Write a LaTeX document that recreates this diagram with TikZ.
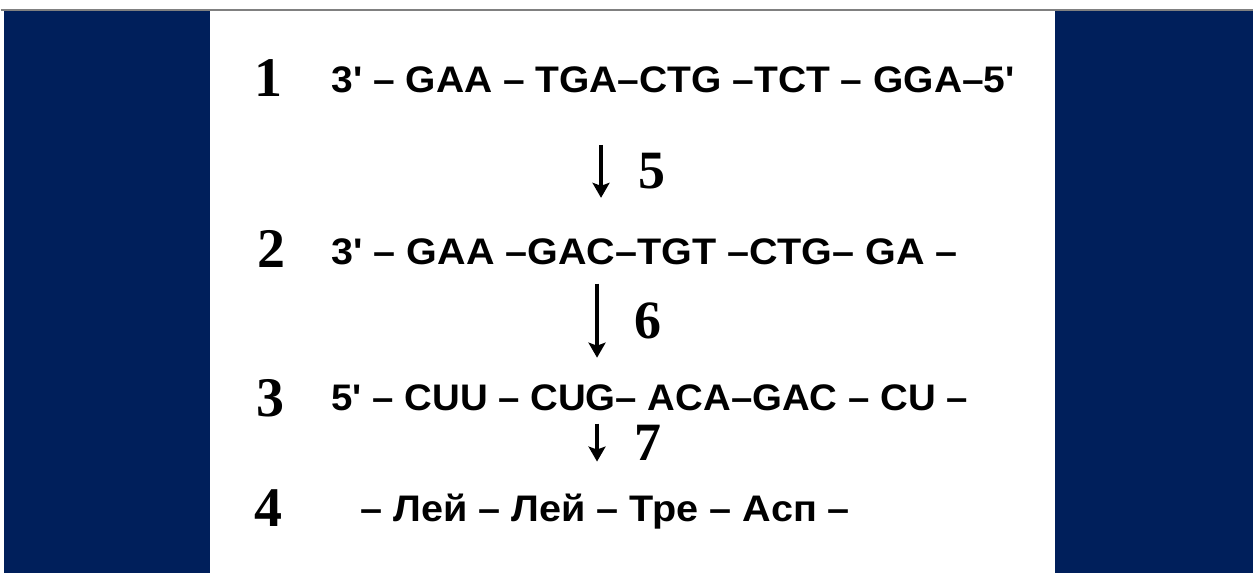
\documentclass[tikz,border=0pt]{standalone}
\usepackage{fontspec}
\setmainfont{Liberation Serif}
\newfontfamily\seqfont{Liberation Sans}
\usetikzlibrary{positioning, arrows.meta}
\definecolor{navy}{RGB}{0,31,91}
\newcommand{\seqrow}[2]{\resizebox{#1}{\height}{#2}}
\newcommand{\pr}{\textquotesingle}

\begin{document}
\begin{tikzpicture}[x=1pt, y=-1pt, >={Stealth[length=15pt, width=17pt, inset=3pt]}, auto,
  num/.style={font=\fontsize{56}{60}\selectfont\bfseries, inner sep=0pt, anchor=base},
  seq/.style={font=\fontsize{37}{40}\selectfont\seqfont\bfseries, inner sep=0pt, anchor=base west},
  lbl/.style={font=\fontsize{54}{60}\selectfont\bfseries, inner xsep=36pt, inner ysep=0pt},
  flow/.style={->, line width=3.2pt}]
  \fill[white] (0,0) rectangle (1254,574);
  \fill[navy] (3,11) rectangle (210,574);
  \fill[navy] (1055,11) rectangle (1254,574);
  \draw[gray, line width=1.2pt] (0,10) -- (1254,10);

  \node[num] (n1) at (268,97)  {1};
  \node[num] (n2) at (271,268) {2};
  \node[num] (n3) at (270,417) {3};
  \node[num] (n4) at (268,527) {4};

  \node[seq] (r1) at (331,93)  {\seqrow{684pt}{3\pr{} – GAA – TGA–CTG –TCT – GGA–5\pr}};
  \node[seq] (r2) at (331,265) {\seqrow{627pt}{3\pr{} – GAA –GAC–TGT –CTG– GA –}};
  \node[seq] (r3) at (331,411) {\seqrow{637pt}{5\pr{} – CUU – CUG– ACA–GAC – CU –}};
  \node[seq] (r4) at (360,522) {\seqrow{490pt}{– Лей – Лей – Тре – Асп –}};

  \coordinate (s5) at (601,145);
  \coordinate (e5) at (601,198);
  \coordinate (s6) at (597,284);
  \coordinate (e6) at (597,358);
  \coordinate (s7) at (597,424);
  \coordinate (e7) at (597,462);

  \path[flow]
    (s5) edge node[lbl] (l5) {5} (e5)
    (s6) edge node[lbl] (l6) {6} (e6)
    (s7) edge node[lbl] (l7) {7} (e7)
  ;
\end{tikzpicture}
\end{document}
